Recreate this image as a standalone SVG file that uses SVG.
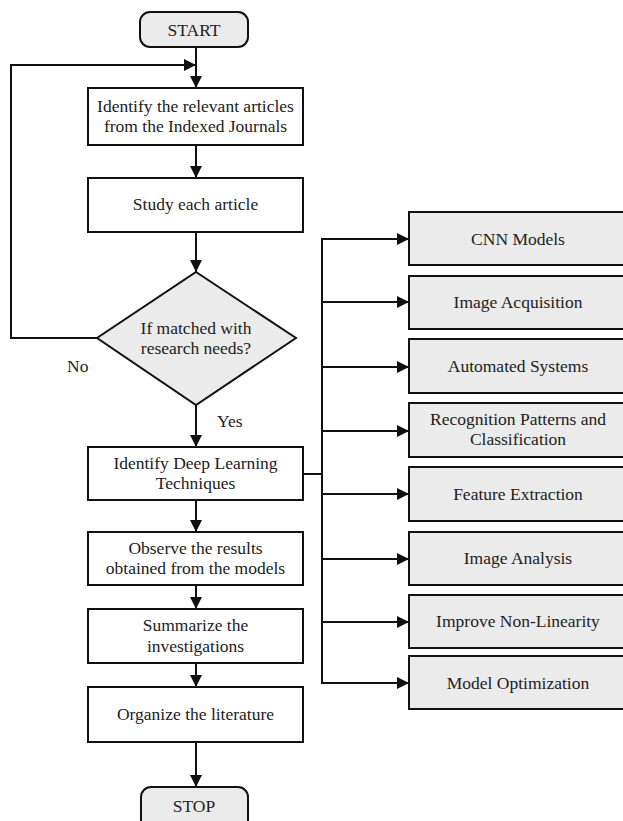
<svg xmlns="http://www.w3.org/2000/svg" width="623" height="821" viewBox="0 0 623 821">
<defs>
<style>
.t{font-family:"Liberation Serif","Times New Roman",serif;font-size:17.5px;fill:#222;text-anchor:middle}
.l{font-family:"Liberation Serif","Times New Roman",serif;font-size:17.5px;fill:#222}
.proc{fill:#fff;stroke:#111;stroke-width:2}
.grey{fill:#ebebeb;stroke:#111;stroke-width:2}
.c{fill:none;stroke:#111;stroke-width:2}
</style>
<marker id="ah" viewBox="0 0 12 12" refX="12" refY="6" markerWidth="12" markerHeight="12" orient="auto" markerUnits="userSpaceOnUse">
<path d="M0,0 L12,6 L0,12 z" fill="#111"/>
</marker>
</defs>
<rect width="623" height="821" fill="#fff"/>
<g id="connectors">
<line class="c" x1="196" y1="47" x2="196" y2="88" marker-end="url(#ah)"/>
<polyline class="c" points="97,338 11,338 11,65 196,65" marker-end="url(#ah)"/>
<line class="c" x1="196" y1="145" x2="196" y2="178" marker-end="url(#ah)"/>
<line class="c" x1="196" y1="232" x2="196" y2="272" marker-end="url(#ah)"/>
<line class="c" x1="196" y1="405" x2="196" y2="447" marker-end="url(#ah)"/>
<line class="c" x1="196" y1="500" x2="196" y2="532" marker-end="url(#ah)"/>
<line class="c" x1="196" y1="585" x2="196" y2="609" marker-end="url(#ah)"/>
<line class="c" x1="196" y1="663" x2="196" y2="687" marker-end="url(#ah)"/>
<line class="c" x1="196" y1="742" x2="196" y2="787" marker-end="url(#ah)"/>
<line class="c" x1="303" y1="474" x2="322" y2="474"/>
<line class="c" x1="322" y1="238" x2="322" y2="684"/>
<line class="c" x1="321" y1="239" x2="409" y2="239" marker-end="url(#ah)"/>
<line class="c" x1="321" y1="302" x2="409" y2="302" marker-end="url(#ah)"/>
<line class="c" x1="321" y1="367" x2="409" y2="367" marker-end="url(#ah)"/>
<line class="c" x1="321" y1="431" x2="409" y2="431" marker-end="url(#ah)"/>
<line class="c" x1="321" y1="494" x2="409" y2="494" marker-end="url(#ah)"/>
<line class="c" x1="321" y1="559" x2="409" y2="559" marker-end="url(#ah)"/>
<line class="c" x1="321" y1="622" x2="409" y2="622" marker-end="url(#ah)"/>
<line class="c" x1="321" y1="683" x2="409" y2="683" marker-end="url(#ah)"/>
<text class="l" x="67" y="372">No</text>
<text class="l" x="217" y="427">Yes</text>
</g>
<g id="start">
<rect class="grey" x="140" y="12" width="108" height="35" rx="10"/>
<text class="t" x="194" y="36">START</text>
</g>
<g id="identify-articles">
<rect class="proc" x="88" y="88" width="215" height="57"/>
<text class="t" x="195.5" y="112">Identify the relevant articles</text>
<text class="t" x="195.5" y="132">from the Indexed Journals</text>
</g>
<g id="study">
<rect class="proc" x="88" y="178" width="215" height="54"/>
<text class="t" x="195.5" y="210">Study each article</text>
</g>
<g id="decision">
<polygon class="grey" points="196,272 296,338 196,405 97,338"/>
<text class="t" x="196" y="334">If matched with</text>
<text class="t" x="196" y="354">research needs?</text>
</g>
<g id="identify-dl">
<rect class="proc" x="88" y="447" width="215" height="53"/>
<text class="t" x="195.5" y="469">Identify Deep Learning</text>
<text class="t" x="195.5" y="489">Techniques</text>
</g>
<g id="observe">
<rect class="proc" x="88" y="532" width="215" height="53"/>
<text class="t" x="195.5" y="554">Observe the results</text>
<text class="t" x="195.5" y="574">obtained from the models</text>
</g>
<g id="summarize">
<rect class="proc" x="88" y="609" width="215" height="54"/>
<text class="t" x="195.5" y="631">Summarize the</text>
<text class="t" x="195.5" y="652">investigations</text>
</g>
<g id="organize">
<rect class="proc" x="88" y="687" width="215" height="55"/>
<text class="t" x="195.5" y="720">Organize the literature</text>
</g>
<g id="stop">
<rect class="grey" x="141" y="787" width="107" height="45" rx="10"/>
<text class="t" x="194" y="812">STOP</text>
</g>
<g id="cnn">
<rect class="grey" x="409" y="212" width="220" height="53"/>
<text class="t" x="518" y="245">CNN Models</text>
</g>
<g id="acquisition">
<rect class="grey" x="409" y="276" width="220" height="53"/>
<text class="t" x="518" y="308">Image Acquisition</text>
</g>
<g id="automated">
<rect class="grey" x="409" y="339" width="220" height="54"/>
<text class="t" x="518" y="372">Automated Systems</text>
</g>
<g id="recognition">
<rect class="grey" x="409" y="403" width="220" height="54"/>
<text class="t" x="518" y="425">Recognition Patterns and</text>
<text class="t" x="518" y="445">Classification</text>
</g>
<g id="feature">
<rect class="grey" x="409" y="467" width="220" height="54"/>
<text class="t" x="518" y="500">Feature Extraction</text>
</g>
<g id="analysis">
<rect class="grey" x="409" y="532" width="220" height="53"/>
<text class="t" x="518" y="564">Image Analysis</text>
</g>
<g id="nonlinearity">
<rect class="grey" x="409" y="595" width="220" height="53"/>
<text class="t" x="518" y="627">Improve Non-Linearity</text>
</g>
<g id="optimization">
<rect class="grey" x="409" y="656" width="220" height="53"/>
<text class="t" x="518" y="689">Model Optimization</text>
</g>
</svg>
